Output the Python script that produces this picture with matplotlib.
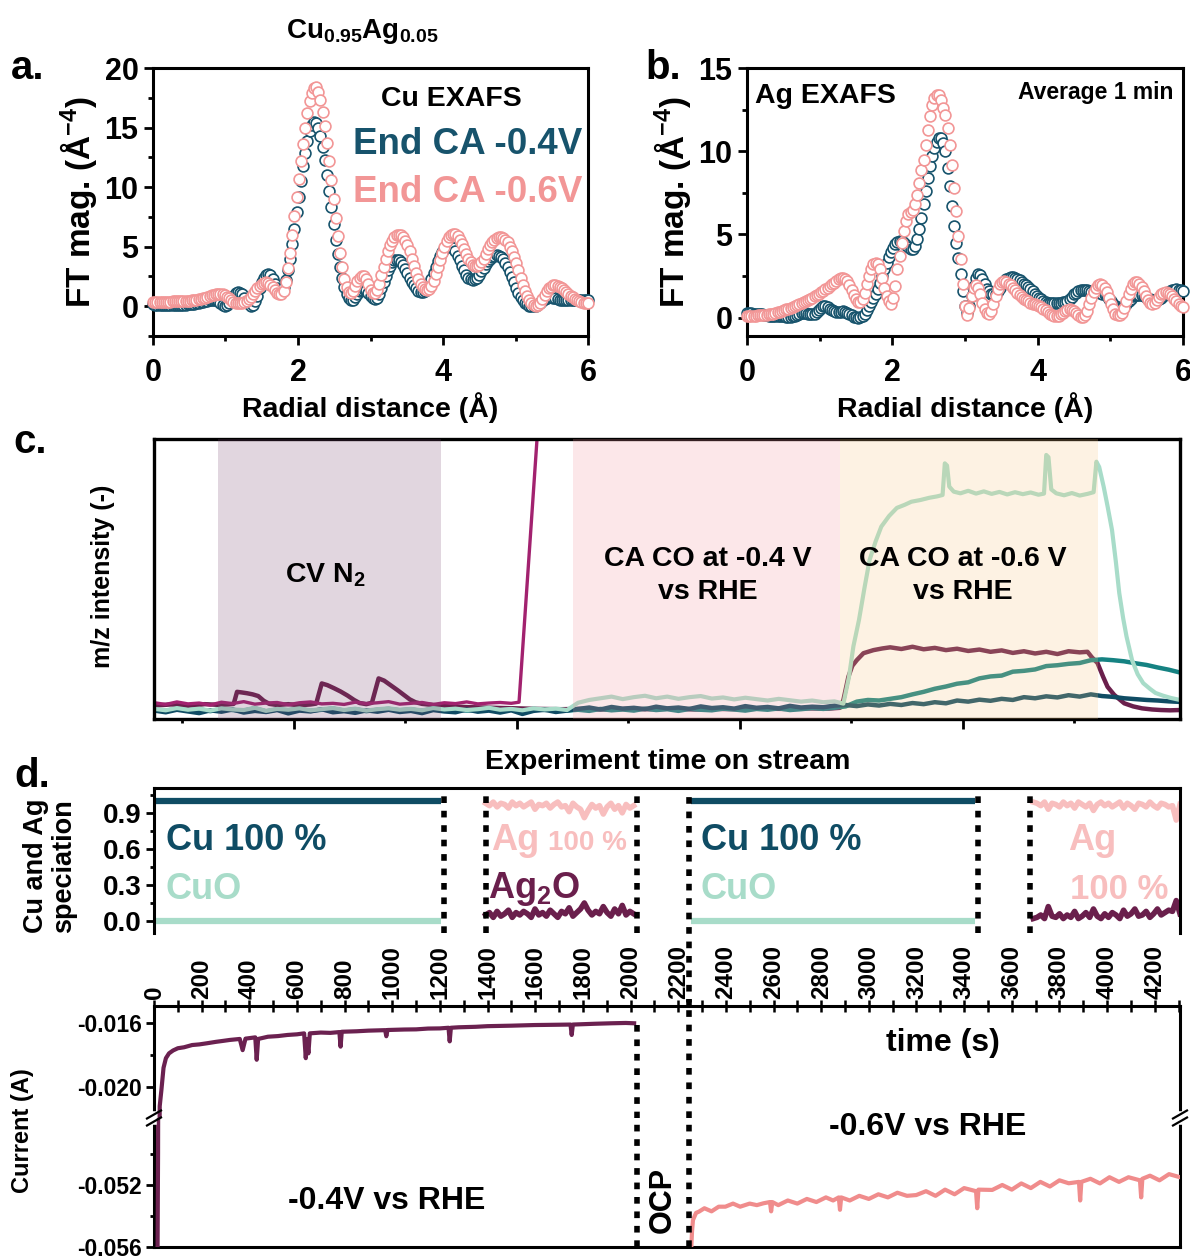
import numpy as np
import matplotlib
matplotlib.use("Agg")
import matplotlib.pyplot as plt
from matplotlib.ticker import MultipleLocator, FixedLocator
from matplotlib.lines import Line2D

plt.rcParams.update({
    "font.family": ["Liberation Sans", "DejaVu Sans"],
    "font.weight": "bold",
    "axes.labelweight": "bold",
    "axes.unicode_minus": False,
    "mathtext.default": "regular",
    "axes.linewidth": 2.2,
})

# ---------------- data ----------------
# EXAFS radial grid (Angstrom)
r_grid = np.round(np.arange(201) * 0.03, 2)

cu_ft_04 = [0.15, 0.12, 0.10, 0.10, 0.10, 0.10, 0.10, 0.10, 0.10, 0.10, 0.10,
            0.10, 0.10, 0.10, 0.12, 0.14, 0.16, 0.18, 0.20, 0.22, 0.25,
            0.28, 0.32, 0.37, 0.42, 0.48, 0.52, 0.55, 0.55, 0.50, 0.40,
            0.25, 0.10, 0.05, 0.10, 0.30, 0.60, 0.90, 1.10, 1.20, 1.15,
            1.00, 0.70, 0.40, 0.15, 0.05, 0.10, 0.40, 0.90, 1.50, 2.00,
            2.40, 2.60, 2.70, 2.60, 2.30, 1.90, 1.50, 1.30, 1.30, 1.60,
            2.20, 3.00, 4.00, 5.20, 6.50, 7.90, 9.20, 10.5, 11.8, 12.9,
            13.9, 14.7, 15.2, 15.5, 15.4, 15.0, 14.3, 13.4, 12.3, 11.0,
            9.70, 8.30, 6.90, 5.60, 4.40, 3.30, 2.40, 1.60, 1.00, 0.65,
            0.50, 0.55, 0.75, 1.00, 1.25, 1.40, 1.45, 1.35, 1.10, 0.85,
            0.65, 0.60, 0.70, 1.00, 1.50, 2.00, 2.50, 3.00, 3.40, 3.70,
            3.85, 3.90, 3.85, 3.70, 3.45, 3.10, 2.75, 2.40, 2.05, 1.75,
            1.50, 1.30, 1.20, 1.20, 1.30, 1.50, 1.85, 2.30, 2.80, 3.30,
            3.80, 4.20, 4.55, 4.80, 5.00, 5.05, 5.00, 4.85, 4.60, 4.25,
            3.85, 3.40, 3.00, 2.65, 2.40, 2.25, 2.20, 2.25, 2.40, 2.65,
            2.95, 3.25, 3.55, 3.80, 4.00, 4.15, 4.25, 4.30, 4.25, 4.15,
            3.95, 3.65, 3.30, 2.90, 2.45, 2.00, 1.55, 1.15, 0.80, 0.50,
            0.30, 0.15, 0.05, 0.00, 0.00, 0.05, 0.15, 0.30, 0.45, 0.60,
            0.70, 0.75, 0.75, 0.70, 0.65, 0.60, 0.55, 0.50, 0.50, 0.50,
            0.50, 0.50, 0.50, 0.50, 0.50, 0.50, 0.50, 0.50, 0.50, 0.55]

cu_ft_06 = [0.35, 0.35, 0.36, 0.36, 0.37, 0.37, 0.38, 0.38, 0.39, 0.40, 0.41,
            0.42, 0.43, 0.44, 0.45, 0.46, 0.47, 0.48, 0.50, 0.52, 0.55,
            0.58, 0.62, 0.67, 0.72, 0.78, 0.85, 0.92, 0.98, 1.02, 1.05,
            1.05, 1.00, 0.92, 0.80, 0.65, 0.50, 0.38, 0.30, 0.26, 0.25,
            0.28, 0.35, 0.45, 0.60, 0.80, 1.00, 1.25, 1.50, 1.70, 1.85,
            1.95, 2.00, 1.95, 1.80, 1.60, 1.35, 1.15, 1.05, 1.05, 1.30,
            2.00, 3.20, 4.50, 6.00, 7.60, 9.20, 10.7, 12.2, 13.6, 15.0,
            16.2, 17.2, 17.9, 18.3, 18.4, 18.0, 17.3, 16.3, 15.1, 13.7,
            12.2, 10.6, 9.00, 7.40, 5.90, 4.50, 3.30, 2.30, 1.60, 1.20,
            1.10, 1.30, 1.70, 2.10, 2.40, 2.55, 2.50, 2.30, 1.90, 1.40,
            1.10, 1.10, 1.40, 1.90, 2.60, 3.30, 4.00, 4.60, 5.10, 5.50,
            5.80, 5.95, 6.00, 5.95, 5.80, 5.50, 5.10, 4.60, 4.00, 3.40,
            2.80, 2.30, 1.90, 1.60, 1.45, 1.40, 1.45, 1.70, 2.10, 2.70,
            3.30, 3.90, 4.50, 5.00, 5.50, 5.80, 6.00, 6.10, 6.05, 5.90,
            5.60, 5.20, 4.80, 4.40, 4.00, 3.70, 3.50, 3.40, 3.40, 3.50,
            3.70, 4.00, 4.40, 4.80, 5.10, 5.40, 5.60, 5.75, 5.80, 5.80,
            5.75, 5.60, 5.35, 5.00, 4.60, 4.10, 3.60, 3.00, 2.40, 1.80,
            1.30, 0.85, 0.50, 0.25, 0.10, 0.05, 0.10, 0.30, 0.60, 0.95,
            1.25, 1.50, 1.65, 1.75, 1.75, 1.70, 1.60, 1.50, 1.35, 1.20,
            1.05, 0.90, 0.75, 0.60, 0.50, 0.40, 0.33, 0.28, 0.25, 0.25]

ag_ft_04 = [0.30, 0.30, 0.28, 0.25, 0.22, 0.20, 0.20, 0.20, 0.18, 0.15, 0.12,
            0.10, 0.08, 0.08, 0.08, 0.10, 0.10, 0.08, 0.06, 0.05, 0.05,
            0.08, 0.12, 0.18, 0.25, 0.30, 0.30, 0.28, 0.24, 0.20, 0.20,
            0.25, 0.35, 0.48, 0.60, 0.68, 0.70, 0.65, 0.55, 0.45, 0.38,
            0.33, 0.32, 0.35, 0.38, 0.36, 0.30, 0.22, 0.14, 0.07, 0.03,
            0.00, 0.02, 0.10, 0.25, 0.45, 0.70, 0.95, 1.20, 1.45, 1.75,
            2.10, 2.50, 2.90, 3.30, 3.65, 3.95, 4.20, 4.40, 4.55, 4.60,
            4.60, 4.50, 4.35, 4.25, 4.15, 4.15, 4.30, 4.70, 5.30, 6.00,
            6.80, 7.60, 8.40, 9.10, 9.70, 10.2, 10.55, 10.8, 10.8, 10.5,
            10.0, 9.00, 7.90, 6.70, 5.50, 4.50, 3.60, 2.60, 1.60, 0.70,
            0.30, 0.70, 1.30, 1.90, 2.40, 2.60, 2.55, 2.30, 2.00, 1.70,
            1.60, 1.45, 1.40, 1.45, 1.60, 1.80, 2.00, 2.15, 2.30, 2.38,
            2.42, 2.42, 2.40, 2.35, 2.25, 2.15, 2.05, 1.95, 1.85, 1.75,
            1.60, 1.45, 1.30, 1.20, 1.10, 1.00, 0.95, 0.90, 0.88, 0.87,
            0.87, 0.87, 0.88, 0.90, 0.92, 0.95, 1.00, 1.10, 1.25, 1.40,
            1.50, 1.60, 1.65, 1.68, 1.68, 1.65, 1.60, 1.55, 1.55, 1.55,
            1.55, 1.50, 1.45, 1.40, 1.30, 1.15, 1.00, 0.85, 0.72, 0.62,
            0.58, 0.60, 0.70, 0.85, 1.00, 1.15, 1.28, 1.35, 1.38, 1.38,
            1.35, 1.30, 1.22, 1.15, 1.10, 1.07, 1.05, 1.07, 1.10, 1.20,
            1.30, 1.40, 1.50, 1.58, 1.65, 1.68, 1.70, 1.68, 1.65, 1.60]

ag_ft_06 = [0.10, 0.10, 0.10, 0.12, 0.13, 0.14, 0.15, 0.16, 0.17, 0.18, 0.20,
            0.22, 0.25, 0.28, 0.32, 0.36, 0.40, 0.45, 0.50, 0.55, 0.60,
            0.65, 0.70, 0.76, 0.82, 0.88, 0.94, 1.00, 1.07, 1.14, 1.21,
            1.28, 1.36, 1.44, 1.52, 1.60, 1.70, 1.80, 1.90, 2.00, 2.10,
            2.20, 2.30, 2.38, 2.40, 2.35, 2.20, 1.95, 1.65, 1.35, 1.10,
            0.95, 0.95, 1.10, 1.50, 2.00, 2.50, 2.90, 3.20, 3.30, 3.20,
            2.90, 2.40, 1.80, 1.30, 1.00, 0.85, 1.20, 1.90, 2.90, 3.70,
            4.50, 5.20, 5.80, 6.20, 6.35, 6.45, 6.80, 7.40, 8.10, 8.90,
            9.50, 10.4, 11.3, 12.1, 12.8, 13.2, 13.4, 13.4, 13.1, 12.6,
            12.2, 11.4, 10.4, 9.20, 7.80, 6.40, 4.90, 3.50, 2.00, 0.70,
            0.15, 0.60, 1.30, 1.80, 1.95, 1.80, 1.40, 0.90, 0.50, 0.30,
            0.25, 0.40, 0.80, 1.30, 1.70, 2.00, 2.15, 2.20, 2.15, 2.05,
            1.95, 1.80, 1.65, 1.50, 1.38, 1.25, 1.15, 1.05, 0.98, 0.90,
            0.85, 0.80, 0.75, 0.70, 0.62, 0.55, 0.45, 0.35, 0.25, 0.18,
            0.12, 0.10, 0.12, 0.20, 0.30, 0.40, 0.48, 0.50, 0.48, 0.40,
            0.28, 0.15, 0.07, 0.05, 0.15, 0.40, 0.80, 1.20, 1.55, 1.80,
            1.95, 2.00, 1.95, 1.80, 1.55, 1.20, 0.85, 0.50, 0.25, 0.15,
            0.15, 0.30, 0.60, 1.00, 1.40, 1.75, 2.00, 2.12, 2.15, 2.05,
            1.85, 1.60, 1.30, 1.05, 0.88, 0.82, 0.88, 1.05, 1.25, 1.42,
            1.50, 1.52, 1.48, 1.40, 1.30, 1.15, 1.00, 0.85, 0.72, 0.65]

# mass spectrometry traces (time on stream, arbitrary units; intensity normalised)
ms_grid = np.arange(7.5, 100.0, 1.0)

ms_mag_t = list(np.arange(7.5, 40.0, 1.0)) + [40.2, 41.9]
ms_mag = [0.058, 0.052, 0.061, 0.054, 0.057, 0.050, 0.060, 0.055, 0.062, 0.053,
          0.057, 0.059, 0.051, 0.058, 0.061, 0.054, 0.056, 0.052, 0.060, 0.055,
          0.058, 0.062, 0.053, 0.056, 0.059, 0.052, 0.058, 0.055, 0.061, 0.054,
          0.057, 0.059, 0.056, 0.060, 1.05]

ms_navy = [0.030, 0.024, 0.033, 0.027, 0.021, 0.031, 0.026, 0.034, 0.023, 0.029,
           0.025, 0.032, 0.020, 0.030, 0.027, 0.035, 0.024, 0.028, 0.022, 0.031,
           0.026, 0.033, 0.025, 0.029, 0.021, 0.032, 0.027, 0.024, 0.034, 0.026,
           0.030, 0.023, 0.031, 0.018, 0.029, 0.033, 0.025, 0.030,
           0.036, 0.041, 0.034, 0.043, 0.037, 0.040, 0.035, 0.044, 0.038, 0.041,
           0.036, 0.045, 0.039, 0.042, 0.037, 0.046, 0.040, 0.043, 0.038, 0.047,
           0.041, 0.044, 0.042, 0.048,
           0.050, 0.046, 0.052, 0.048, 0.054, 0.050, 0.057, 0.053, 0.060, 0.056,
           0.066, 0.062, 0.069, 0.065, 0.072, 0.068, 0.078, 0.074, 0.081, 0.077,
           0.085, 0.080, 0.088, 0.082, 0.079, 0.074, 0.071, 0.068, 0.066, 0.063,
           0.061]

ms_teal = [0.034, 0.029, 0.037, 0.031, 0.035, 0.028, 0.036, 0.032, 0.030, 0.038,
           0.027, 0.034, 0.031, 0.036, 0.029, 0.033, 0.037, 0.030, 0.035, 0.028,
           0.033, 0.036, 0.031, 0.034, 0.029, 0.037, 0.032, 0.035, 0.030, 0.033,
           0.038, 0.031, 0.034, 0.029, 0.036, 0.032, 0.035, 0.030,
           0.033, 0.029, 0.036, 0.031, 0.034, 0.030, 0.037, 0.032, 0.035, 0.029,
           0.036, 0.033, 0.031, 0.037, 0.034, 0.030, 0.036, 0.033, 0.038, 0.032,
           0.035, 0.039, 0.036, 0.040,
           0.045, 0.062, 0.068, 0.066, 0.072, 0.078, 0.088, 0.097, 0.108, 0.116,
           0.126, 0.131, 0.145, 0.152, 0.155, 0.169, 0.172, 0.177, 0.189, 0.192,
           0.197, 0.200, 0.210, 0.213, 0.210, 0.206, 0.199, 0.193, 0.184, 0.176,
           0.166]

ms_mint_t = list(np.arange(7.5, 69.0, 1.0)) + [
    69.3, 69.8, 70.2, 70.7, 71.2, 71.65, 72.2, 72.7, 73.4, 74.1, 74.8, 75.4,
    76.2, 77.0, 77.7, 78.2, 78.4, 78.6, 78.8, 79.2, 79.8, 80.5, 81.2, 81.9,
    82.6, 83.3, 84.0, 84.7, 85.4, 86.1, 86.8, 87.3, 87.5, 87.7, 87.95, 88.4,
    89.1, 89.8, 90.5, 91.2, 91.75, 92.0, 92.25, 92.65, 93.0, 93.4, 93.75,
    94.05, 94.4, 94.7, 95.2, 95.7, 96.2, 96.8, 97.3, 98.0, 98.7, 99.5]
ms_mint = [0.036, 0.031, 0.039, 0.033, 0.037, 0.030, 0.038, 0.034, 0.032, 0.040,
           0.029, 0.036, 0.033, 0.038, 0.031, 0.035, 0.039, 0.032, 0.037, 0.030,
           0.035, 0.038, 0.033, 0.036, 0.031, 0.039, 0.034, 0.037, 0.032, 0.035,
           0.040, 0.033, 0.036, 0.031, 0.038, 0.034, 0.037, 0.032,
           0.058, 0.068, 0.074, 0.080, 0.071, 0.078, 0.083, 0.074, 0.080, 0.072,
           0.078, 0.082, 0.073, 0.077, 0.070, 0.076, 0.071, 0.066, 0.072, 0.067,
           0.062, 0.066, 0.060, 0.063,
           0.055, 0.150, 0.260, 0.354, 0.470, 0.568, 0.635, 0.687, 0.725, 0.754,
           0.765, 0.776, 0.782, 0.790, 0.795, 0.800, 0.913, 0.905, 0.830, 0.812,
           0.806, 0.815, 0.805, 0.813, 0.804, 0.811, 0.802, 0.810, 0.803, 0.809,
           0.801, 0.805, 0.943, 0.935, 0.820, 0.806, 0.799, 0.807, 0.798, 0.804,
           0.810, 0.919, 0.900, 0.830, 0.760, 0.675, 0.560, 0.450, 0.360, 0.295,
           0.210, 0.160, 0.128, 0.108, 0.093, 0.083, 0.075, 0.068]

ms_maroon_t = [7.5, 9.0, 10.5, 12.0, 13.5, 14.6, 14.9, 15.3, 15.8, 16.3, 16.8,
               17.3, 17.8, 18.5, 19.5, 20.5, 21.5, 22.0, 22.5, 23.0, 23.6, 24.2,
               24.8, 25.4, 25.9, 26.5, 27.0, 27.6, 28.1, 28.7, 29.3, 29.9, 30.4,
               30.9, 31.5, 32.5, 34.0, 36.0, 38.0, 40.0, 42.0, 44.0, 46.0, 48.0,
               50.0, 52.0, 54.0, 56.0, 58.0, 60.0, 62.0, 64.0, 66.0, 68.0, 69.0,
               69.3, 69.75, 70.1, 70.5, 71.1, 72.0, 72.8, 73.5, 74.5, 75.5, 76.5,
               77.5, 78.5, 79.5, 80.5, 81.5, 82.5, 83.5, 84.5, 85.5, 86.5, 87.5,
               88.5, 89.5, 90.5, 91.2, 91.6, 92.1, 92.6, 93.0, 93.6, 94.5, 95.3,
               96.1, 97.0, 97.8, 98.6, 99.5]
ms_maroon = [0.048, 0.052, 0.047, 0.053, 0.050, 0.054, 0.097, 0.095, 0.092, 0.088,
             0.082, 0.065, 0.054, 0.050, 0.053, 0.049, 0.052, 0.055, 0.127, 0.121,
             0.110, 0.098, 0.084, 0.068, 0.057, 0.053, 0.058, 0.145, 0.137, 0.120,
             0.103, 0.085, 0.070, 0.060, 0.054, 0.050, 0.045, 0.042, 0.040, 0.038,
             0.036, 0.035, 0.036, 0.034, 0.036, 0.035, 0.037, 0.034, 0.036, 0.035,
             0.037, 0.036, 0.038, 0.037, 0.040, 0.068, 0.151, 0.190, 0.210, 0.235,
             0.246, 0.252, 0.256, 0.250, 0.258, 0.249, 0.254, 0.246, 0.251, 0.243,
             0.248, 0.240, 0.245, 0.236, 0.242, 0.234, 0.240, 0.232, 0.242, 0.238,
             0.240, 0.220, 0.200, 0.151, 0.115, 0.086, 0.056, 0.045, 0.038, 0.034,
             0.032, 0.031, 0.032]

# shaded experiment stages (same time units)
stage_cv = (13.2, 33.2)
stage_ca04 = (45.0, 69.0)
stage_ca06 = (69.0, 92.15)

# XAS speciation (time in s)
cu_t1 = [0, 1203]
cu_t2 = [2252, 3447]
cu_metal = [1.0, 1.0]
cu_oxide = [0.0, 0.0]

ag_t1 = np.linspace(1392, 2013, 40)
ag_t2 = np.linspace(3690, 4306, 40)
ag_metal_1 = [0.98, 0.96, 0.99, 0.95, 0.98, 0.97, 0.94, 0.99, 0.96, 0.98,
              0.95, 0.97, 0.99, 0.93, 0.97, 0.96, 0.98, 0.94, 0.97, 0.99,
              0.95, 0.96, 0.91, 0.98, 0.95, 0.93, 0.86, 0.92, 0.97, 0.94,
              0.96, 0.89, 0.95, 0.98, 0.93, 0.96, 0.90, 0.97, 0.94, 0.96]
ag_oxide_1 = [0.05, 0.07, 0.03, 0.08, 0.04, 0.06, 0.09, 0.03, 0.07, 0.05,
              0.08, 0.06, 0.03, 0.10, 0.05, 0.07, 0.04, 0.09, 0.06, 0.03,
              0.08, 0.06, 0.11, 0.04, 0.07, 0.10, 0.15, 0.09, 0.05, 0.08,
              0.06, 0.12, 0.07, 0.04, 0.10, 0.06, 0.13, 0.05, 0.08, 0.06]
ag_metal_2 = [0.99, 0.98, 0.96, 0.99, 0.93, 0.98, 0.97, 0.95, 0.99, 0.96,
              0.98, 0.94, 0.99, 0.97, 0.95, 0.98, 0.92, 0.97, 0.99, 0.96,
              0.98, 0.95, 0.97, 0.99, 0.94, 0.98, 0.96, 0.93, 0.98, 0.97,
              0.95, 0.99, 0.96, 0.94, 0.98, 0.97, 0.95, 0.96, 0.84, 0.97]
ag_oxide_2 = [0.02, 0.03, 0.05, 0.02, 0.12, 0.04, 0.03, 0.06, 0.02, 0.05,
              0.03, 0.08, 0.02, 0.04, 0.07, 0.03, 0.10, 0.04, 0.02, 0.06,
              0.03, 0.07, 0.05, 0.02, 0.09, 0.04, 0.06, 0.10, 0.04, 0.05,
              0.08, 0.03, 0.06, 0.10, 0.05, 0.07, 0.09, 0.08, 0.17, 0.06]

# stage boundaries (s)
xas_bounds = [1216, 1392, 2029, 2247, 3459, 3677]
ocp_start, ocp_end = 2029, 2247

# chronoamperometry
ca04_t = [15, 17, 20, 24, 31, 40, 50, 63, 80, 100, 126, 160, 190, 222, 260,
          290, 319, 360, 372, 384, 425, 431, 437, 478, 520, 560, 600, 630, 637,
          642, 648, 654, 700, 740, 778, 783, 788, 850, 900, 970, 975, 980, 1050,
          1100, 1150, 1200, 1236, 1241, 1246, 1279, 1350, 1400, 1500, 1597,
          1650, 1700, 1748, 1753, 1758, 1850, 1919, 1980, 2015]
ca04_i = [-0.0559, -0.0500, -0.0300, -0.0212, -0.0202, -0.0188, -0.0182,
          -0.0179, -0.01772, -0.01758, -0.01752, -0.01738, -0.01734, -0.01727,
          -0.01718, -0.01712, -0.01706, -0.01700, -0.01770, -0.01698, -0.01690,
          -0.01830, -0.01700, -0.01686, -0.01682, -0.01675, -0.01671, -0.01665,
          -0.01820, -0.01700, -0.01790, -0.01665, -0.01660, -0.01662, -0.01657,
          -0.01748, -0.01655, -0.01652, -0.01648, -0.01645, -0.01683, -0.01644,
          -0.01641, -0.01640, -0.01635, -0.01634, -0.01630, -0.01715, -0.01630,
          -0.01627, -0.01624, -0.01620, -0.01617, -0.01613, -0.01612, -0.01611,
          -0.01610, -0.01675, -0.01610, -0.01605, -0.01602, -0.01600, -0.01602]

ca06_t = [2255, 2258, 2262, 2275, 2287, 2310, 2340, 2370, 2398, 2430, 2460,
          2500, 2530, 2558, 2585, 2590, 2595, 2620, 2660, 2700, 2740, 2780,
          2820, 2850, 2874, 2879, 2884, 2920, 2960, 3000, 3040, 3080, 3120,
          3160, 3199, 3240, 3280, 3320, 3360, 3400, 3450, 3455, 3460, 3518,
          3560, 3600, 3640, 3680, 3720, 3760, 3800, 3839, 3882, 3887, 3892,
          3930, 3970, 4010, 4050, 4090, 4138, 4143, 4148, 4180, 4220, 4260, 4306]
ca06_i = [-0.0560, -0.0550, -0.05426, -0.0538, -0.05372, -0.0535, -0.0537,
          -0.0534, -0.0534, -0.0532, -0.0534, -0.0532, -0.0533, -0.05318,
          -0.0531, -0.0537, -0.0531, -0.0533, -0.0530, -0.0532, -0.0529,
          -0.0531, -0.0528, -0.0530, -0.0528, -0.0536, -0.0528, -0.0530,
          -0.0527, -0.0529, -0.0526, -0.0528, -0.0525, -0.0527, -0.05265,
          -0.0524, -0.0527, -0.0523, -0.0526, -0.0522, -0.0524, -0.0535,
          -0.0523, -0.05232, -0.0520, -0.0523, -0.0519, -0.0522, -0.0518,
          -0.0521, -0.0517, -0.05189, -0.0518, -0.0530, -0.0518, -0.0516,
          -0.0519, -0.0515, -0.0518, -0.0515, -0.0517, -0.0528, -0.0516,
          -0.0514, -0.0517, -0.0513, -0.0515]

time_ticks = np.arange(0, 4201, 200)

# ---------------- style ----------------
NAVY = "#17536C"
PINK = "#F29696"
DEEP_NAVY = "#0F4C64"
MINT = "#A8DCC9"
TEAL = "#158282"
MAGENTA = "#A2226F"
MAROON = "#6A1F4C"
AG_PINK = "#F8BEBE"
CA04 = "#6B2150"
CA06 = "#F08C8C"
DOT = (0, (1.2, 1.4))

W, H = 1190, 1259
fig = plt.figure(figsize=(W / 100, H / 100), dpi=100)


def rect(l, t, r, b):
    return [l / W, 1 - b / H, (r - l) / W, (b - t) / H]


def fx(px):
    return px / W


def fy(py):
    return 1 - py / H


# ---------------- a / b: EXAFS ----------------
def exafs_axes(ax, ylim, ymajor, blue, pink):
    ax.plot(r_grid, blue, "o", ms=7.8, mfc="white", mec=NAVY, mew=1.2,
            clip_on=False, zorder=3)
    ax.plot(r_grid, pink, "o", ms=7.8, mfc="white", mec=PINK, mew=1.2,
            clip_on=False, zorder=4)
    ax.set_xlim(0, 6)
    ax.set_ylim(*ylim)
    ax.xaxis.set_major_locator(MultipleLocator(2))
    ax.xaxis.set_minor_locator(MultipleLocator(1))
    ax.yaxis.set_major_locator(MultipleLocator(ymajor))
    ax.yaxis.set_minor_locator(MultipleLocator(ymajor / 2))
    ax.tick_params(which="major", length=6.5, width=2.0, labelsize=22, pad=4)
    ax.tick_params(axis="x", which="major", pad=9)
    ax.tick_params(which="minor", length=3.5, width=2.0)
    ax.set_xlabel("Radial distance (Å)", fontsize=20.5, labelpad=3)
    ax.set_ylabel("FT mag. (Å$^{-4}$)", fontsize=24, labelpad=4)


ax_a = fig.add_axes(rect(153, 68, 588, 336))
exafs_axes(ax_a, (-2.5, 20), 5, cu_ft_04, cu_ft_06)
ax_a.text(0.687, 0.885, "Cu EXAFS", transform=ax_a.transAxes, ha="center",
          va="center", fontsize=20.5)
ax_a.text(0.987, 0.713, "End CA -0.4V", transform=ax_a.transAxes, ha="right",
          va="center", fontsize=26.5, color=NAVY)
ax_a.text(0.987, 0.537, "End CA -0.6V", transform=ax_a.transAxes, ha="right",
          va="center", fontsize=26.5, color=PINK)

ax_b = fig.add_axes(rect(747, 68, 1183, 336))
exafs_axes(ax_b, (-1.1, 15), 5, ag_ft_04, ag_ft_06)
ax_b.text(0.018, 0.895, "Ag EXAFS", transform=ax_b.transAxes, ha="left",
          va="center", fontsize=20.5)
ax_b.text(0.977, 0.91, "Average 1 min", transform=ax_b.transAxes, ha="right",
          va="center", fontsize=16.5)

fig.text(fx(362), fy(32), "Cu$_{0.95}$Ag$_{0.05}$", ha="center", va="center",
         fontsize=20)
fig.text(fx(28), fy(68), "a.", ha="center", va="center", fontsize=29)
fig.text(fx(663), fy(68), "b.", ha="center", va="center", fontsize=29)

# ---------------- c: mass spectrometry ----------------
ax_c = fig.add_axes(rect(154, 439, 1180, 719))
ax_c.plot(ms_maroon_t, ms_maroon, color=MAROON, lw=3.2, zorder=2)
ax_c.plot(ms_grid, ms_teal, color=TEAL, lw=3.2, zorder=2)
ax_c.plot(ms_grid, ms_navy, color=DEEP_NAVY, lw=3.2, zorder=2)
ax_c.plot(ms_mint_t, ms_mint, color=MINT, lw=3.0, zorder=2)
ax_c.plot(ms_mag_t, ms_mag, color=MAGENTA, lw=2.4, zorder=2)
ax_c.axvspan(*stage_cv, color=(120 / 255, 70 / 255, 110 / 255), alpha=0.22,
             lw=0, zorder=3)
ax_c.axvspan(*stage_ca04, color=(245 / 255, 150 / 255, 155 / 255), alpha=0.22,
             lw=0, zorder=3)
ax_c.axvspan(*stage_ca06, color=(250 / 255, 200 / 255, 130 / 255), alpha=0.22,
             lw=0, zorder=3)
ax_c.set_xlim(7.45, 99.5)
ax_c.set_ylim(0, 1)
ax_c.xaxis.set_major_locator(FixedLocator([20, 40, 60, 80]))
ax_c.xaxis.set_minor_locator(FixedLocator([10, 30, 50, 70, 90]))
ax_c.tick_params(axis="x", which="major", length=7, width=2.0, labelbottom=False)
ax_c.tick_params(axis="x", which="minor", length=3, width=2.0)
ax_c.set_yticks([])
for s in ax_c.spines.values():
    s.set_linewidth(2.4)
ax_c.text(22.8, 0.514, "CV N$_2$", ha="center", va="center", fontsize=20.5,
          zorder=5)
ax_c.text(57.1, 0.514, "CA CO at -0.4 V\nvs RHE", ha="center", va="center",
          fontsize=20.5, linespacing=1.35, zorder=5)
ax_c.text(80.0, 0.514, "CA CO at -0.6 V\nvs RHE", ha="center", va="center",
          fontsize=20.5, linespacing=1.35, zorder=5)
fig.text(fx(103), fy(576), "m/z intensity (-)", rotation=90, ha="center",
         va="center", fontsize=18)
fig.text(fx(30), fy(442), "c.", ha="center", va="center", fontsize=29)

# ---------------- d: speciation ----------------
ax_s = fig.add_axes(rect(154, 788, 1180, 933))
ax_s.plot(cu_t1, cu_metal, color=DEEP_NAVY, lw=4.5, solid_capstyle="butt")
ax_s.plot(cu_t1, cu_oxide, color=MINT, lw=4.5, solid_capstyle="butt")
ax_s.plot(cu_t2, cu_metal, color=DEEP_NAVY, lw=4.5, solid_capstyle="butt")
ax_s.plot(cu_t2, cu_oxide, color=MINT, lw=4.5, solid_capstyle="butt")
ax_s.plot(ag_t1, ag_metal_1, color=AG_PINK, lw=4.0)
ax_s.plot(ag_t1, ag_oxide_1, color=MAROON, lw=4.0)
ax_s.plot(ag_t2, ag_metal_2, color=AG_PINK, lw=4.0)
ax_s.plot(ag_t2, ag_oxide_2, color=MAROON, lw=4.0)
for t in xas_bounds:
    if t == ocp_end:
        ax_s.axvline(t, ymin=-0.5, ymax=1.0, color="k", lw=4, ls=DOT,
                     clip_on=False, zorder=5)
    else:
        ax_s.axvline(t, color="k", lw=4, ls=DOT, zorder=5)
ax_s.set_xlim(0, 4306)
ax_s.set_ylim(-0.1, 1.107)
ax_s.set_yticks([0.0, 0.3, 0.6, 0.9])
ax_s.set_yticklabels(["0.0", "0.3", "0.6", "0.9"])
ax_s.yaxis.set_minor_locator(MultipleLocator(0.15))
ax_s.tick_params(axis="y", which="major", length=6, width=2.0, labelsize=20,
                 pad=3)
ax_s.tick_params(axis="y", which="minor", length=3, width=2.0)
ax_s.tick_params(axis="x", which="both", bottom=False, labelbottom=False)
ax_s.spines["bottom"].set_visible(False)

ax_s.text(50, 0.587, "Cu 100 %", color=DEEP_NAVY, fontsize=26, va="baseline")
ax_s.text(50, 0.185, "CuO", color=MINT, fontsize=26, va="baseline")
ax_s.text(1414, 0.587, "Ag", color=AG_PINK, fontsize=26, va="baseline")
ax_s.text(1652, 0.587, "100 %", color=AG_PINK, fontsize=20, va="baseline")
ax_s.text(1400, 0.195, "Ag$_2$O", color=MAROON, fontsize=26, va="baseline")
ax_s.text(2294, 0.587, "Cu 100 %", color=DEEP_NAVY, fontsize=26, va="baseline")
ax_s.text(2294, 0.185, "CuO", color=MINT, fontsize=26, va="baseline")
ax_s.text(3837, 0.587, "Ag", color=AG_PINK, fontsize=26, va="baseline")
ax_s.text(3845, 0.185, "100 %", color=AG_PINK, fontsize=25, va="baseline")

fig.text(fx(50), fy(866), "Cu and Ag\nspeciation", rotation=90, ha="center",
         va="center", fontsize=19.5, linespacing=1.1)
fig.text(fx(668), fy(762), "Experiment time on stream", ha="center",
         va="center", fontsize=20.5)
fig.text(fx(32), fy(776), "d.", ha="center", va="center", fontsize=29)

# ---------------- d: current (broken axis) ----------------
ax_u = fig.add_axes(rect(154, 1006, 1180, 1118))
ax_l = fig.add_axes(rect(154, 1118, 1180, 1247))
for ax in (ax_u, ax_l):
    ax.plot(ca04_t, ca04_i, color=CA04, lw=3.0, zorder=3)
    ax.plot(ca06_t, ca06_i, color=CA06, lw=3.0, zorder=3)
    ax.set_xlim(0, 4306)
    ax.tick_params(axis="y", which="major", length=6, width=2.0, labelsize=16.5,
                   pad=3)
    ax.tick_params(axis="y", which="minor", length=3, width=2.0)

ax_u.set_ylim(-0.02194, -0.01494)
ax_l.set_ylim(-0.056, -0.04768)
ax_u.set_yticks([-0.020, -0.016])
ax_u.set_yticklabels(["-0.020", "-0.016"])
ax_u.yaxis.set_minor_locator(FixedLocator([-0.018]))
ax_l.set_yticks([-0.056, -0.052])
ax_l.set_yticklabels(["-0.056", "-0.052"])
ax_l.yaxis.set_minor_locator(FixedLocator([-0.054, -0.050]))
ax_u.spines["bottom"].set_visible(False)
ax_l.spines["top"].set_visible(False)
ax_u.set_xticks(time_ticks)
ax_u.set_xticklabels([str(t) for t in time_ticks])
ax_u.xaxis.set_minor_locator(MultipleLocator(100))
ax_u.tick_params(axis="x", which="both", top=True, bottom=False, labeltop=True,
                 labelbottom=False, direction="inout", length=8, width=1.8,
                 labelsize=17.5, labelrotation=90, pad=1)
ax_l.tick_params(axis="x", which="both", bottom=False, top=False,
                 labelbottom=False)

# stage boundaries across the current panel
ax_u.plot([ocp_start, ocp_start], [-0.0161, -0.02194], color="k", lw=4, ls=DOT,
          zorder=5)
ax_u.axvline(ocp_end, ymin=0, ymax=1.06, color="k", lw=4, ls=DOT,
             clip_on=False, zorder=5)
ax_l.axvline(ocp_start, color="k", lw=4, ls=DOT, zorder=5)
ax_l.axvline(ocp_end, color="k", lw=4, ls=DOT, zorder=5)

ax_u.text(3312, -0.01725, "time (s)", ha="center", va="center", fontsize=23)
ax_l.text(3245, -0.04826, "-0.6V vs RHE", ha="center", va="center",
          fontsize=23)
ax_l.text(977, -0.05303, "-0.4V vs RHE", ha="center", va="center", fontsize=23)
ax_l.text(2134, -0.05297, "OCP", rotation=90, ha="center", va="center",
          fontsize=22)

fig.text(fx(22), fy(1131), "Current (A)", rotation=90, ha="center", va="center",
         fontsize=17)

# break marks on the current axis
for bx in (154, 1180):
    fig.add_artist(Line2D([fx(bx), fx(bx)], [fy(1114), fy(1122)], color="white",
                          lw=4))
    for dy in (-3.5, 3.5):
        fig.add_artist(Line2D([fx(bx - 7), fx(bx + 7)],
                              [fy(1118 + dy + 4), fy(1118 + dy - 4)],
                              color="k", lw=1.6))

fig.savefig("out.png", dpi=100)
